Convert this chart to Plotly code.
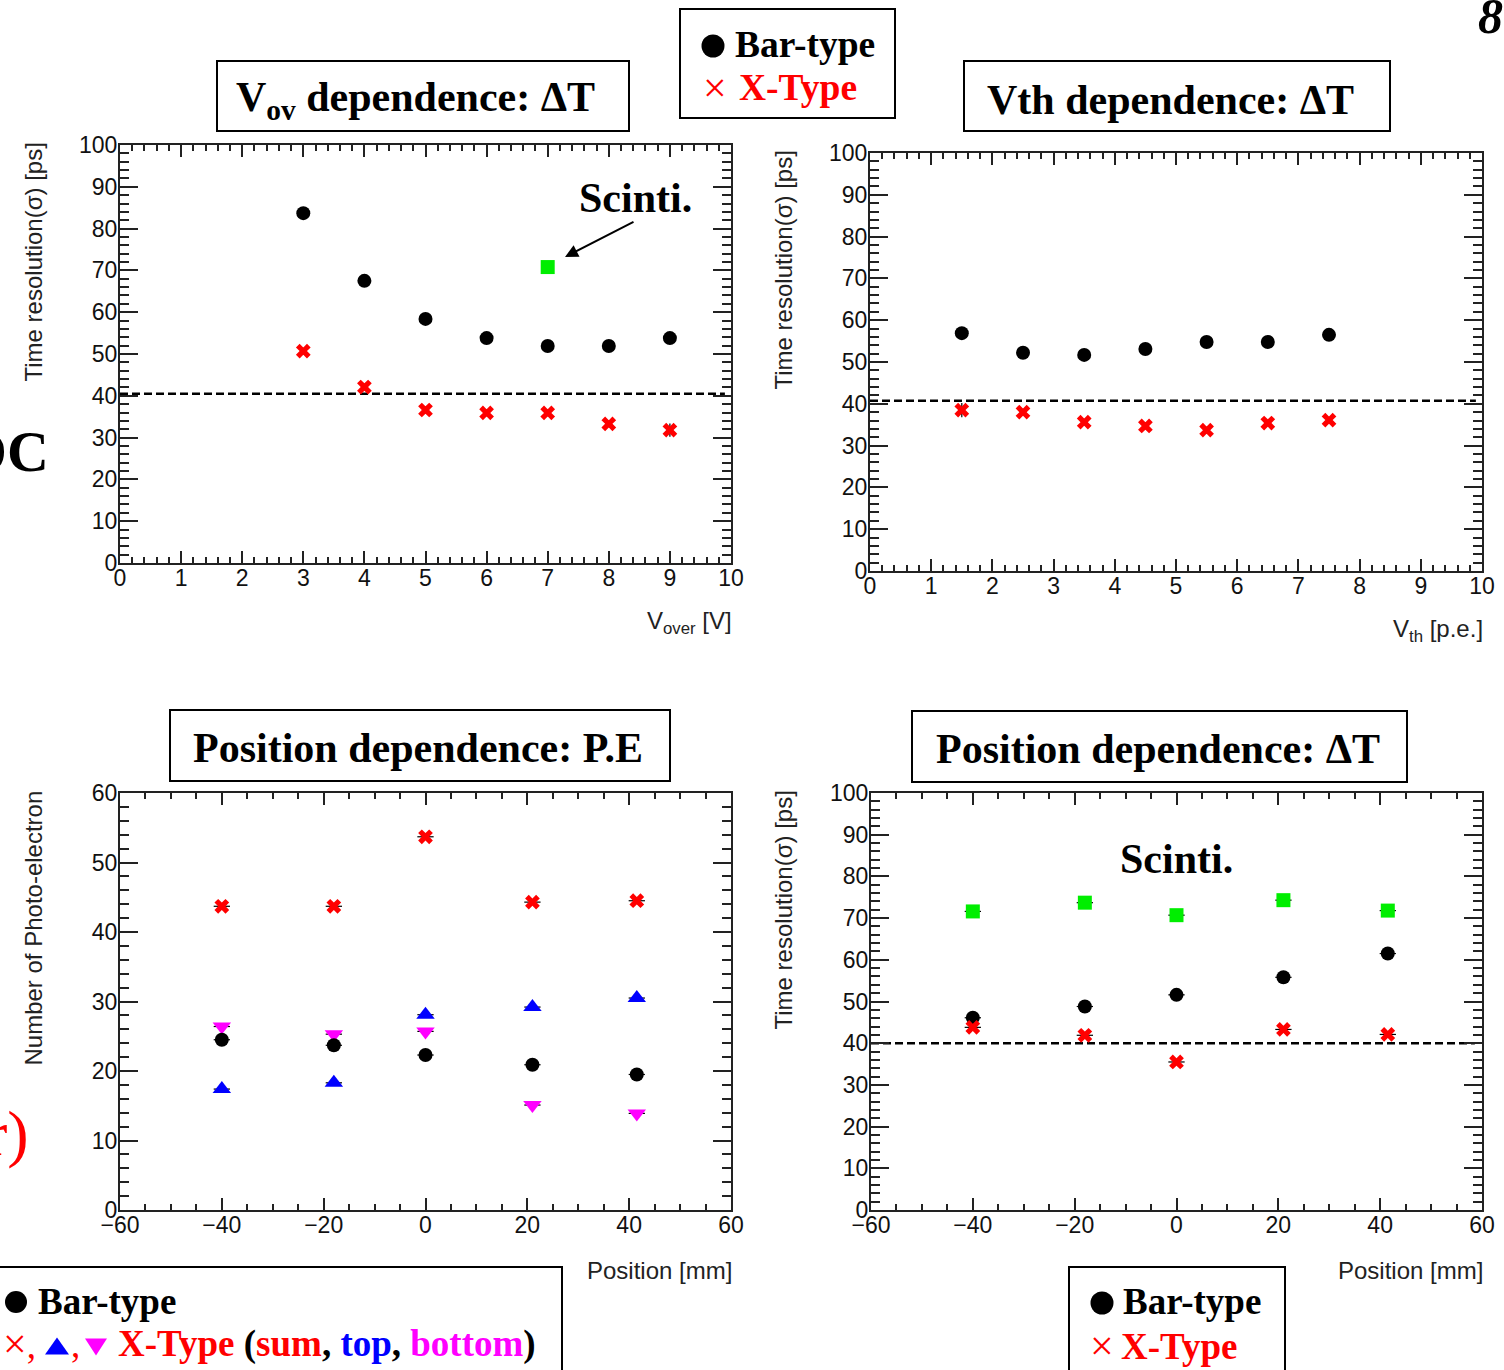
import plotly.graph_objects as go

W, H = 1504, 1370

# ---------------- data ----------------
# Panel 1: V_ov dependence (Delta T)
vov = [3, 4, 5, 6, 7, 8, 9]
vov_bar = [83.7, 67.5, 58.4, 53.8, 51.9, 51.9, 53.8]
vov_xtype = [50.7, 42.1, 36.6, 35.9, 35.9, 33.3, 31.8]
vov_xtype_err = [0.8, 0.8, 0.8, 0.8, 0.8, 0.8, 1.6]
vov_scinti_x = [7]
vov_scinti = [70.8]
vov_line_x = [0, 9.9]
vov_line_y = [40.5, 40.5]

# Panel 2: Vth dependence (Delta T)
vth = [1.5, 2.5, 3.5, 4.5, 5.5, 6.5, 7.5]
vth_bar = [56.9, 52.2, 51.7, 53.1, 54.8, 54.8, 56.5]
vth_xtype = [38.5, 38.0, 35.6, 34.7, 33.7, 35.4, 36.1]
vth_xtype_err = [1.7, 0.8, 0.8, 0.8, 0.8, 0.8, 0.8]
vth_line_x = [0, 9.9]
vth_line_y = [40.7, 40.7]

# Panel 3: Position dependence (P.E)
pos = [-40, -18, 0, 21, 41.5]
pos_err = [1.6, 1.6, 1.6, 1.6, 1.6]
pe_bar = [24.5, 23.7, 22.3, 20.9, 19.5]
pe_sum = [43.7, 43.7, 53.7, 44.3, 44.5]
pe_top = [17.4, 18.3, 28.1, 29.2, 30.5]
pe_bottom = [26.4, 25.3, 25.7, 15.1, 13.9]

# Panel 4: Position dependence (Delta T)
dt_bar = [46.1, 48.8, 51.6, 55.8, 61.5]
dt_xtype = [43.8, 41.9, 35.5, 43.3, 42.1]
dt_scinti = [71.6, 73.7, 70.7, 74.3, 71.8]
dt_line_x = [-60, 58.6]
dt_line_y = [40.0, 40.0]

# ---------------- helpers ----------------
def px(x):
    return x / W

def py(y):
    return 1 - y / H

SANS = "Liberation Sans"
SERIF = "Liberation Serif"
AXC = "#222222"
RED = "#ff0000"
BLUE = "#0000ff"
MAG = "#ff00ff"
GREEN = "#00ee00"

fig = go.Figure()

def marker_trace(x, y, symbol, color, size, xa, ya, ey=None, ex=None):
    kw = {}
    if ey is not None:
        kw["error_y"] = dict(type="data", array=ey, color="black", thickness=1.2, width=0)
    if ex is not None:
        kw["error_x"] = dict(type="data", array=ex, color="black", thickness=1.2, width=0)
    fig.add_trace(go.Scatter(
        x=x, y=y, mode="markers", xaxis=xa, yaxis=ya, showlegend=False,
        marker=dict(symbol=symbol, color=color, size=size, line=dict(width=0)),
        **kw))

def dash_line(x, y, xa, ya):
    fig.add_trace(go.Scatter(
        x=x, y=y, mode="lines", xaxis=xa, yaxis=ya, showlegend=False,
        line=dict(color="black", width=2.5, dash="8px,4px")))

# Panel 1
dash_line(vov_line_x, vov_line_y, "x", "y")
marker_trace(vov, vov_bar, "circle", "black", 14, "x", "y")
marker_trace(vov, vov_xtype, "x", RED, 13, "x", "y", ey=vov_xtype_err)
marker_trace(vov_scinti_x, vov_scinti, "square", GREEN, 14, "x", "y")

# Panel 2
dash_line(vth_line_x, vth_line_y, "x2", "y2")
marker_trace(vth, vth_bar, "circle", "black", 14, "x2", "y2")
marker_trace(vth, vth_xtype, "x", RED, 13, "x2", "y2", ey=vth_xtype_err)

# Panel 3
marker_trace(pos, pe_sum, "x", RED, 13, "x3", "y3", ex=pos_err)
marker_trace(pos, pe_top, "triangle-up", BLUE, 16, "x3", "y3", ex=pos_err)
marker_trace(pos, pe_bottom, "triangle-down", MAG, 16, "x3", "y3", ex=pos_err)
marker_trace(pos, pe_bar, "circle", "black", 14, "x3", "y3", ex=pos_err)

# Panel 4
dash_line(dt_line_x, dt_line_y, "x4", "y4")
marker_trace(pos, dt_scinti, "square", GREEN, 14, "x4", "y4", ex=pos_err)
marker_trace(pos, dt_bar, "circle", "black", 14, "x4", "y4", ex=pos_err)
marker_trace(pos, dt_xtype, "x", RED, 13, "x4", "y4", ex=pos_err)

# ---------------- axes ----------------
def axis(domain, rng, dtick, minor_dtick, anchor, ticklen, minorlen, standoff):
    return dict(
        domain=domain, range=rng, anchor=anchor, autorange=False, automargin=False,
        showgrid=False, zeroline=False, showline=True, linecolor=AXC, linewidth=2,
        mirror="allticks", ticks="inside", tickcolor=AXC, tickwidth=1.5, ticklen=ticklen,
        tick0=rng[0], dtick=dtick, ticklabelstandoff=standoff,
        minor=dict(ticks="inside", ticklen=minorlen, dtick=minor_dtick, tickcolor=AXC, tickwidth=1.5),
        tickfont=dict(family=SANS, size=23, color="#111111"),
        fixedrange=True,
    )

P1 = (120, 731, 145, 563)
P2 = (870, 1482, 153, 571)
P3 = (120, 731, 793, 1210)
P4 = (871, 1482, 793, 1210)

def dom_x(p):
    return [px(p[0]), px(p[1])]

def dom_y(p):
    return [py(p[3]), py(p[2])]

layout = dict(
    width=W, height=H, margin=dict(l=0, r=0, t=0, b=0, pad=0), autosize=False,
    paper_bgcolor="white", plot_bgcolor="white", showlegend=False,
    xaxis=axis(dom_x(P1), [0, 10], 1, 0.2, "y", 12, 6, -7),
    yaxis=axis(dom_y(P1), [0, 100], 10, 2, "x", 18, 9, -4),
    xaxis2=axis(dom_x(P2), [0, 10], 1, 0.2, "y2", 12, 6, -7),
    yaxis2=axis(dom_y(P2), [0, 100], 10, 2, "x2", 18, 9, -4),
    xaxis3=axis(dom_x(P3), [-60, 60], 20, 5, "y3", 12, 6, -7),
    yaxis3=axis(dom_y(P3), [0, 60], 10, 2, "x3", 18, 9, -4),
    xaxis4=axis(dom_x(P4), [-60, 60], 20, 5, "y4", 12, 6, -7),
    yaxis4=axis(dom_y(P4), [0, 100], 10, 2, "x4", 18, 9, -4),
)
fig.update_layout(**layout)

# ---------------- boxes ----------------
boxes = [
    (217, 61, 629, 131),
    (680, 9, 895, 118),
    (964, 61, 1390, 131),
    (170, 710, 670, 781),
    (912, 711, 1407, 782),
    (-10, 1267, 562, 1390),
    (1069, 1267, 1285, 1390),
]
for (x0, y0, x1, y1) in boxes:
    fig.add_shape(type="rect", xref="paper", yref="paper",
                  x0=px(x0), x1=px(x1), y0=py(y0), y1=py(y1),
                  line=dict(color="black", width=2), fillcolor="rgba(0,0,0,0)")

# legend symbols drawn as shapes (pixel-placed)
def dot(cx, cy, r, color="black"):
    fig.add_shape(type="circle", xref="paper", yref="paper",
                  x0=px(cx - r), x1=px(cx + r), y0=py(cy + r), y1=py(cy - r),
                  line=dict(width=0), fillcolor=color)

def tri(cx, cy, w, h, up, color):
    if up:
        pts = [(cx - w / 2, cy + h / 2), (cx + w / 2, cy + h / 2), (cx, cy - h / 2)]
    else:
        pts = [(cx - w / 2, cy - h / 2), (cx + w / 2, cy - h / 2), (cx, cy + h / 2)]
    path = "M " + " L ".join(f"{px(a)},{py(b)}" for a, b in pts) + " Z"
    fig.add_shape(type="path", xref="paper", yref="paper", path=path,
                  line=dict(width=0), fillcolor=color)

dot(713, 46, 11.5)
dot(16, 1302, 11)
dot(1102, 1303, 11.5)
tri(57, 1346, 24, 17, True, BLUE)
tri(96, 1347, 22, 17, False, MAG)

# ---------------- text ----------------
def ann(x, y, text, size, family=SERIF, color="black", xanchor="center", yanchor="middle", angle=0):
    fig.add_annotation(x=px(x), y=py(y), xref="paper", yref="paper", text=text,
                       showarrow=False, xanchor=xanchor, yanchor=yanchor, textangle=angle,
                       font=dict(family=family, size=size, color=color))

# titles
ann(415, 100, "<b>V<sub>ov</sub> dependence: ΔT</b>", 42)
ann(1170, 100, "<b>Vth dependence: ΔT</b>", 42)
ann(418, 748, "<b>Position dependence: P.E</b>", 42)
ann(1158, 749, "<b>Position dependence: ΔT</b>", 42)

# Scinti labels
ann(635, 198, "<b>Scinti.</b>", 42)
ann(1176, 859, "<b>Scinti.</b>", 42)
fig.add_annotation(x=px(565), y=py(257), xref="paper", yref="paper", text="",
                   showarrow=True, ax=70, ay=-36, arrowhead=2, arrowsize=1.3,
                   arrowwidth=2, arrowcolor="black")

# top legend
ann(733, 44, "<b>Bar-type</b>", 37.5, xanchor="left")
ann(715, 88, "×", 42, color=RED)
ann(737, 88, "<b>X-Type</b>", 37.5, color=RED, xanchor="left")

# bottom-left legend
ann(36, 1301, "<b>Bar-type</b>", 37, xanchor="left")
ann(1, 1344, "<span style='font-size:42px'>×</span>,", 37, color=RED, xanchor="left")
ann(69, 1344, ",", 37, color=RED, xanchor="left")
ann(116, 1344,
    "<b><span style='color:#ff0000'>X-Type</span> (<span style='color:#ff0000'>sum</span>, "
    "<span style='color:#0000ff'>top</span>, <span style='color:#ff00ff'>bottom</span>)</b>",
    37, xanchor="left")

# bottom-right legend
ann(1102, 1346, "×", 42, color=RED)
ann(1121, 1301, "<b>Bar-type</b>", 37, xanchor="left")
ann(1119, 1346, "<b>X-Type</b>", 37, color=RED, xanchor="left")

# page fragments
ann(1476, 16, "<b><i>8</i></b>", 50, xanchor="left")
ann(51, 452, "<b>DC</b>", 58, xanchor="right")
ann(31, 1133, "r)", 64, color=RED, xanchor="right")

# axis titles
ann(33, 141, "Time resolution(σ) [ps]", 24, family=SANS, color="#222222", yanchor="top", angle=-90)
ann(783, 149, "Time resolution(σ) [ps]", 24, family=SANS, color="#222222", yanchor="top", angle=-90)
ann(33, 789, "Number of Photo-electron", 24, family=SANS, color="#222222", yanchor="top", angle=-90)
ann(783, 789, "Time resolution(σ) [ps]", 24, family=SANS, color="#222222", yanchor="top", angle=-90)

ann(734, 622, "V<sub>over</sub> [V]", 24, family=SANS, color="#222222", xanchor="right")
ann(1485, 630, "V<sub>th</sub> [p.e.]", 24, family=SANS, color="#222222", xanchor="right")
ann(734, 1270, "Position [mm]", 24, family=SANS, color="#222222", xanchor="right")
ann(1485, 1270, "Position [mm]", 24, family=SANS, color="#222222", xanchor="right")

fig.write_html("out.html")
